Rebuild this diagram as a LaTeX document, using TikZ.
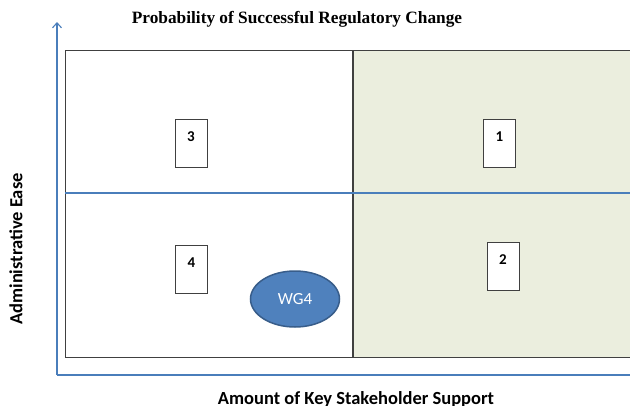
\documentclass[tikz,border=0pt]{standalone}
\usepackage{fontspec}
\setmainfont{Carlito}
\newfontfamily\titlefont{Liberation Serif}
\usetikzlibrary{shapes.geometric,arrows.meta,shadows}
\definecolor{axisblue}{HTML}{4A7EBB}
\definecolor{gridblue}{HTML}{4A7EBB}
\definecolor{quadgreen}{HTML}{EBEEDE}
\definecolor{ovalblue}{HTML}{4F81BD}
\definecolor{ovaledge}{HTML}{385D8A}
\definecolor{boxedge}{HTML}{404040}
\tikzset{
  quadrant/.style={draw=boxedge, line width=1pt},
  card/.style={draw=boxedge, fill=white, line width=0.9pt, minimum width=32pt,
    minimum height=48pt, inner sep=0pt,
    drop shadow={shadow xshift=0.8pt, shadow yshift=-0.8pt, opacity=0.5}},
  cardnum/.style={font=\bfseries\fontsize{15}{17}\selectfont, inner sep=0pt},
  axis/.style={draw=axisblue, line width=1.1pt},
  axislabel/.style={font=\bfseries\fontsize{18.5}{20}\selectfont},
}
\begin{document}
\begin{tikzpicture}[x=1pt,y=-1pt]
\useasboundingbox (0,0) rectangle (630,405);
% quadrants
\fill[quadgreen] (353,50) rectangle (632,357);
\draw[quadrant] (65,50) rectangle (352,357);
\draw[quadrant] (632,50) -- (353,50) -- (353,357) -- (632,357);
% horizontal divider
\draw[draw=gridblue, line width=1.1pt] (65,193) -- (632,193);
% axes
\coordinate (origin) at (57,375);
\coordinate (ytip) at (57,22);
\coordinate (xend) at (632,375);
\draw[axis, -{Straight Barb[length=5pt,width=9pt]}] (origin) -- (ytip);
\draw[axis] (origin) -- (xend);
% titles
\node[font=\titlefont\bfseries\fontsize{17.3}{19}\selectfont] (title) at (297,19) {Probability of Successful Regulatory Change};
\node[axislabel, rotate=90] (ylab) at (16,249) {Administrative Ease};
\node[axislabel] (xlab) at (356,399) {Amount of Key Stakeholder Support};
% cards
\node[card] (c3) at (191,143) {};
\node[cardnum] at ([yshift=-18pt]c3.north) {3};
\node[card] (c4) at (191.5,269) {};
\node[cardnum] at ([yshift=-18pt]c4.north) {4};
\node[card] (c1) at (499.5,143) {};
\node[cardnum] at ([yshift=-18pt]c1.north) {1};
\node[card] (c2) at (503,266.5) {};
\node[cardnum] at ([yshift=-18pt]c2.north) {2};
% working group
\node[ellipse, draw=ovaledge, fill=ovalblue, line width=1.5pt, minimum width=89pt,
  minimum height=56pt, text=white, font=\fontsize{17}{19}\selectfont] (wg) at (295,299) {WG4};
\end{tikzpicture}
\end{document}
